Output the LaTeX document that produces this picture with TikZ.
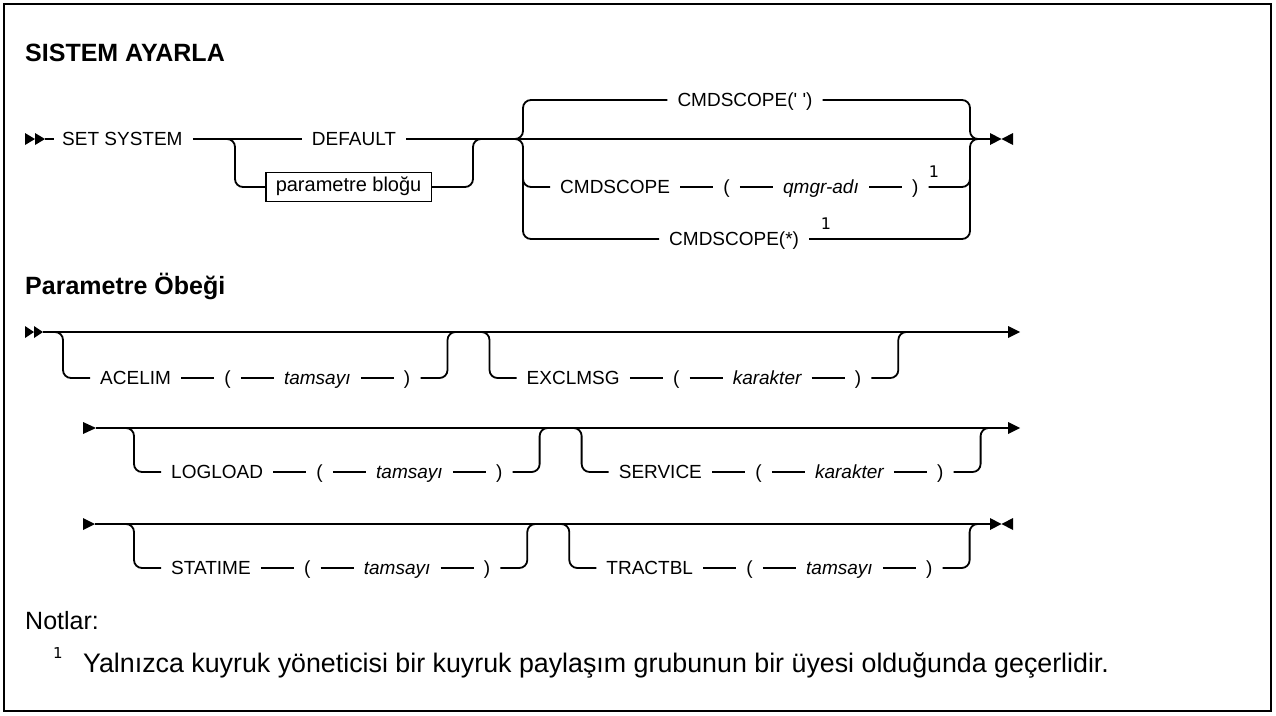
\documentclass[tikz,border=0pt]{standalone}
\usepackage{fontspec}
\setmainfont{Liberation Sans}[Ligatures=TeXOff]
\newfontfamily\supfont{DejaVu Sans}
\usetikzlibrary{positioning,calc}
\tikzset{
  ln/.style={line width=1.8pt},
  rc/.style={line width=1.8pt, rounded corners=8pt},
  seg/.style={line width=1.8pt, shorten <=10pt, shorten >=10pt},
  tok/.style={inner sep=0pt, text height=12pt, text depth=0pt, font=\fontsize{19}{22}\selectfont},
  var/.style={tok, font=\fontsize{19}{22}\selectfont\itshape},
  sup/.style={inner sep=0pt, font=\supfont\fontsize{16}{18}\selectfont},
  pbox/.style={draw, line width=1.5pt, inner xsep=10pt, inner ysep=0pt, minimum height=29pt, text height=13.5pt, text depth=4pt, font=\fontsize{20}{22}\selectfont},
  head/.style={inner sep=0pt, anchor=base west, font=\fontsize{25}{30}\selectfont\bfseries},
  note/.style={inner sep=0pt, anchor=base west, font=\fontsize{25}{30}\selectfont},
}
\newcommand\rtri[3]{\fill (#1,#2-6) -- (#1+#3,#2) -- (#1,#2+6) -- cycle;}
\newcommand\ltri[3]{\fill (#1+#3,#2-6) -- (#1,#2) -- (#1+#3,#2+6) -- cycle;}
% #1 prefix, #2 left-bracket coordinate (branch level), #3 keyword, #4 variable, #5 main line y
\newcommand\kwgroup[5]{%
  \node[tok,anchor=west] (#11) at ([xshift=37pt]#2) {#3};
  \node[tok,right=53pt of #11] (#12) {(};
  \node[var,right=53pt of #12] (#13) {#4};
  \node[tok,right=53pt of #13] (#14) {)};
  \draw[seg] (#11) -- (#12);
  \draw[seg] (#12) -- (#13);
  \draw[seg] (#13) -- (#14);
  \draw[rc] ([xshift=-10pt]#11.west) -- (#2) -- (#2 |- 0,#5) -- ++(-12,0);
  \coordinate (#1R) at ([xshift=37pt]#14.east);
  \draw[rc] ([xshift=10pt]#14.east) -- (#1R) -- (#1R |- 0,#5) -- ++(12,0);
}
\begin{document}
\begin{tikzpicture}[x=1pt,y=-1pt]
\useasboundingbox (0,0) rectangle (1276,715);
\draw[line width=2pt] (4,4) rectangle (1271,711);
\node[head] (t1) at (25,61) {SISTEM AYARLA};

% ---------- Row 1
\rtri{25}{139}{10}\rtri{35}{139}{10}
\coordinate (s1) at (45,139);
\node[tok,anchor=west] (set) at (62,139) {SET SYSTEM};
\draw[ln] (s1) -- ([xshift=-8pt]set.west);
\node[tok] (def) at (354,139) {DEFAULT};
\draw[seg] (set) -- (def);
\coordinate (e1) at (990,139);
\draw[ln,shorten <=10pt] (def.east) -- (e1);
\rtri{990}{139}{11.5}\ltri{1001.5}{139}{11.5}
\node[pbox,anchor=west] (pb) at (265,187) {parametre bloğu};
\draw[rc] (pb.west) -- (235,187) -- (235,139) -- ++(-12,0);
\draw[rc] (pb.east) -- (473,187) -- (473,139) -- ++(12,0);

\node[tok] (cq) at (745,100) {CMDSCOPE(' ')};
\draw[rc] ([xshift=-10pt]cq.west) -- (523,100) -- (523,139) -- ++(-12,0);
\draw[rc] ([xshift=10pt]cq.east) -- (970,100) -- (970,139) -- ++(12,0);

\coordinate (gL) at (523,187);
\node[tok,anchor=west] (g1) at ([xshift=37pt]gL) {CMDSCOPE};
\node[tok,right=53pt of g1] (g2) {(};
\node[var,right=53pt of g2] (g3) {qmgr-adı};
\node[tok,right=53pt of g3] (g4) {)};
\draw[seg] (g1) -- (g2);
\draw[seg] (g2) -- (g3);
\draw[seg] (g3) -- (g4);
\draw[rc] ([xshift=-10pt]g1.west) -- (gL) -- (523,160);
\draw[rc] ([xshift=10pt]g4.east) -- (970,187) -- (970,160);
\node[sup] (n1) at (934,172) {1};

\node[tok,anchor=west] (cs) at (669,239) {CMDSCOPE(*)};
\draw[rc] ([xshift=-10pt]cs.west) -- (523,239) -- (523,139) -- ++(-12,0);
\draw[rc] ([xshift=10pt]cs.east) -- (970,239) -- (970,139) -- ++(12,0);
\node[sup] (n2) at (826,224) {1};

% ---------- Parameter block
\node[head] (t2) at (25,294) {Parametre Öbeği};

% Row 2
\rtri{25}{332}{9}\rtri{34}{332}{9}
\coordinate (s2) at (43,332);
\coordinate (e2) at (1008,332);
\draw[ln] (s2) -- (e2);
\rtri{1008}{332}{12}
\coordinate (aL) at (63,378);
\kwgroup{a}{aL}{ACELIM}{tamsayı}{332}
\coordinate (bL) at ([xshift=42pt]aR);
\kwgroup{b}{bL}{EXCLMSG}{karakter}{332}

% Row 3
\rtri{83}{428}{13}
\coordinate (s3) at (96,428);
\coordinate (e3) at (1008,428);
\draw[ln] (s3) -- (e3);
\rtri{1008}{428}{12}
\coordinate (cL) at (134,472);
\kwgroup{c}{cL}{LOGLOAD}{tamsayı}{428}
\coordinate (dL) at ([xshift=42pt]cR);
\kwgroup{d}{dL}{SERVICE}{karakter}{428}

% Row 4
\rtri{83}{524}{12}
\coordinate (s4) at (95,524);
\coordinate (e4) at (990,524);
\draw[ln] (s4) -- (e4);
\rtri{990}{524}{11.5}\ltri{1001.5}{524}{11.5}
\coordinate (eL) at (134,568);
\kwgroup{e}{eL}{STATIME}{tamsayı}{524}
\coordinate (fL) at ([xshift=42pt]eR);
\kwgroup{f}{fL}{TRACTBL}{tamsayı}{524}

% ---------- Notes
\node[note] (nt) at (25,629) {Notlar:};
\node[sup,anchor=base west,font=\supfont\fontsize{15}{17}\selectfont] (fn1) at (53,658) {1};
\node[note,font=\fontsize{26.8}{30}\selectfont] (fn) at (83,672) {Yalnızca kuyruk yöneticisi bir kuyruk paylaşım grubunun bir üyesi olduğunda geçerlidir.};
\end{tikzpicture}
\end{document}
